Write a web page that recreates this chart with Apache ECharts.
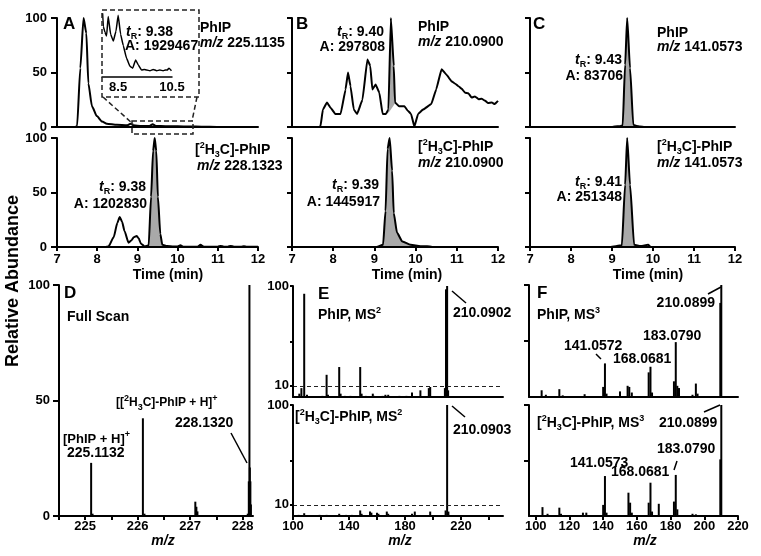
<!DOCTYPE html>
<html>
<head>
<meta charset="utf-8">
<script src="https://cdn.jsdelivr.net/npm/echarts@6/dist/echarts.min.js"></script>
<style>
html,body{margin:0;padding:0;background:#fff;}
#main{width:761px;height:556px;}
</style>
</head>
<body>
<div id="main"></div>
<script>
// ---- data ----
// chromatograms: [time (min), relative abundance]
var traceATop = [[7,0],[7.45,0],[7.5,1],[7.58,54],[7.66,100],[7.73,86],[7.78,40],[7.87,19],[7.99,10],[8.12,5],[8.24,3],[8.49,2],[8.74,1.5],[8.83,3],[8.9,1.5],[9.1,1],[9.3,1],[9.38,2.5],[9.46,1],[9.7,0.8],[10,0.6],[10.3,0.5],[10.6,0.3],[11,0],[12,0]];
var fillATop = [[9.3,1],[9.38,2.5],[9.46,1]];
var traceInset = [[7.9,120],[7.95,80],[8.01,71],[8.07,65],[8.13,96],[8.22,68],[8.32,57],[8.42,73],[8.5,98],[8.59,68],[8.69,50],[8.81,30],[8.94,17],[9.04,14],[9.15,27],[9.25,19],[9.37,11],[9.47,12],[9.56,11],[9.68,10],[9.8,12],[9.93,10],[10.05,11],[10.17,10],[10.25,11],[10.32,11],[10.39,14],[10.48,10]];
var traceABot = [[7,0],[8.2,0],[8.28,0.5],[8.41,9],[8.5,22],[8.56,27.5],[8.62,23],[8.68,14.5],[8.78,4],[8.85,6],[8.91,9],[8.98,10],[9.03,8],[9.09,3],[9.18,0.5],[9.28,1.5],[9.34,46],[9.39,88],[9.43,100],[9.47,88],[9.51,46],[9.57,12],[9.62,2],[9.74,1],[9.9,0.5],[10,0.5],[10.07,1.5],[10.15,0.3],[10.5,0.3],[10.57,2],[10.65,0.3],[11,0.3],[11.07,1],[11.15,0.3],[11.25,0.3],[11.32,1],[11.4,0.3],[11.58,0.3],[11.65,0.8],[11.72,0.3],[12,0.2]];
var fillABot = [[9.28,1.5],[9.34,46],[9.39,88],[9.43,100],[9.47,88],[9.51,46],[9.57,12],[9.62,2]];
var traceBTop = [[7,0],[7.65,0],[7.69,0.5],[7.75,16],[7.85,22.5],[7.93,18],[8.05,12],[8.18,12],[8.3,34.5],[8.36,50],[8.42,37.5],[8.5,16],[8.58,12],[8.71,25],[8.83,62],[8.9,56],[8.95,34.5],[9.03,39],[9.12,31.5],[9.2,12],[9.28,12],[9.34,16],[9.4,100],[9.47,56],[9.5,22.5],[9.6,19],[9.73,19],[9.81,15],[9.89,12],[9.97,0.3],[10.06,12],[10.18,16],[10.38,21],[10.5,34.5],[10.63,53],[10.75,48],[10.87,42],[10.95,40],[11.04,37.5],[11.12,35],[11.2,31.5],[11.28,31],[11.36,27],[11.44,28],[11.53,25.5],[11.6,26],[11.69,24],[11.76,22],[11.85,22.5],[11.92,21],[12,24]];
var fillBTopPeak = [[9.34,16],[9.4,100],[9.47,56],[9.5,22.5]];
var fillBTopBase = [[9.33,12.5],[9.4,16],[9.47,20],[9.51,22.5]];
var traceBBot = [[7,0],[9.05,0],[9.21,2],[9.27,33],[9.32,90],[9.37,100],[9.43,70],[9.47,31],[9.55,13],[9.68,5],[9.88,2],[10.12,0.8],[10.28,0.8],[10.4,0],[12,0]];
var fillBBot = [[9.05,0],[9.21,2],[9.27,33],[9.32,90],[9.37,100],[9.43,70],[9.47,31],[9.55,13],[9.68,5],[9.88,2],[10.12,0.8],[10.28,0.8]];
var traceCTop = [[7,0],[9,0],[9.07,0.5],[9.2,0.8],[9.26,1.5],[9.32,57],[9.37,100],[9.44,54],[9.52,2],[9.6,1],[9.68,0.5],[9.8,0],[12,0]];
var fillCTop = [[9.26,1.5],[9.32,57],[9.37,100],[9.44,54],[9.52,2]];
var traceCBot = [[7,0],[8.95,0],[9.24,1.5],[9.32,57],[9.37,100],[9.44,57],[9.54,2],[9.7,1],[9.88,2],[9.95,0],[12,0]];
var fillCBot = [[9.24,1.5],[9.32,57],[9.37,100],[9.44,57],[9.54,2]];

// spectra: [m/z, relative abundance]
var specD = [[225.113,23],[225.14,1],[226.1,42.3],[226.13,1],[227.1,6.2],[227.12,4],[227.14,2],[228.1,1],[228.12,15],[228.132,100],[228.14,21],[228.15,15],[228.16,5]];
var specETop = [[104.5,3],[106,8],[108,93],[110,2],[121,1],[124,20],[125,2],[130,1],[133,27],[134,3],[137,1],[141,1],[145,1],[148,27],[149,3],[152,1],[157,3],[158,1],[164,1],[166,2],[168,2],[170,1],[176,1],[181,1],[185,4],[191,6],[197,8],[198,9],[208.5,8],[209.3,97],[210.09,100],[210.8,6]];
var specEBot = [[104,1],[108,2.5],[119,1],[124,1],[133,2],[138,1],[142,1],[148,5],[149,2],[155,4],[156,3],[160,3],[161,2],[167,4],[168,2],[175,1],[180,1],[185,2],[187,4],[195,1],[198,4],[209,5],[210.09,100],[211,4]];
var specFTop = [[103.5,6],[106,2],[114,7],[116,1.5],[129,2.5],[140,9],[141.06,30],[142,3],[150,5],[154.5,10],[155.5,9],[157,4],[167,22],[168.07,27],[169,4],[182,14],[183.08,49],[184,10],[185,8],[193,2],[195,12],[196,3],[209.5,84],[210.09,100]];
var specFBot = [[104,8],[107,2],[114,7.5],[115,2],[128,3],[130,3],[140,10],[141.06,36],[142,3],[155,21],[156,12],[157,3],[167,12],[168.07,30],[169,4],[173,11],[182,13],[183.08,37],[184,6],[193,2],[195,1.5],[209.5,51],[210.09,100]];

// tick values
var timeTicks = [7, 8, 9, 10, 11, 12];
var insetLabels = [8.5, 10.5];
var abundTicks = [0, 50, 100];
var dTicks = [224.5, 225, 225.5, 226, 226.5, 227, 227.5, 228];
var dLabels = [225, 226, 227, 228];
var eTicks = [100, 120, 140, 160, 180, 200, 220, 240];
var eLabels = [100, 140, 180, 220];
var eYTicks = [10, 50, 100];
var eYLabels = [10, 100];
var fTicks = [100, 120, 140, 160, 180, 200, 220];
var fYTicks = [50, 100];

// ---- helpers ----
var FF = '"Liberation Sans", Arial, sans-serif';
var black = '#000';
var grey = '#a9a9a9';

function xAx(gi, min, max, ticks, labels, margin) {
    return {
        type: 'value', gridIndex: gi, min: min, max: max, z: 5,
        axisLine: {show: true, onZero: false, lineStyle: {color: black, width: 2}},
        axisTick: {show: !!ticks, customValues: ticks, length: 4, lineStyle: {color: black, width: 2}},
        axisLabel: {show: !!labels, customValues: labels, margin: margin || 5, color: black,
            fontFamily: FF, fontSize: 13, fontWeight: 'bold'},
        splitLine: {show: false}
    };
}
function yAx(gi, ticks, labels, tickLen, margin, noLine) {
    return {
        type: 'value', gridIndex: gi, min: 0, max: 100, z: 5,
        axisLine: {show: !noLine, onZero: false, lineStyle: {color: black, width: 2}},
        axisTick: {show: !!ticks, customValues: ticks, length: tickLen || 5, lineStyle: {color: black, width: 2}},
        axisLabel: {show: !!labels, customValues: labels, margin: margin || 8, color: black,
            fontFamily: FF, fontSize: 13, fontWeight: 'bold'},
        splitLine: {show: false}
    };
}
function trace(gi, data, smooth, width) {
    return {type: 'line', xAxisIndex: gi, yAxisIndex: gi, data: data, symbol: 'none', showSymbol: false,
        smooth: smooth, smoothMonotone: 'x', lineStyle: {color: black, width: width || 2}, z: 4};
}
function fill(gi, data, smooth, color, z) {
    return {type: 'line', xAxisIndex: gi, yAxisIndex: gi, data: data, symbol: 'none', showSymbol: false,
        smooth: smooth, smoothMonotone: 'x', lineStyle: {width: 0, opacity: 0},
        areaStyle: {color: color || grey, opacity: 1}, z: z || 2};
}
function sticks(gi, data, dashed) {
    var s = {type: 'bar', xAxisIndex: gi, yAxisIndex: gi, data: data, barWidth: 2,
        itemStyle: {color: black}, z: 3};
    if (dashed) {
        s.markLine = {silent: true, symbol: 'none', label: {show: false},
            lineStyle: {type: [4, 3], color: '#222', width: 1}, data: [{yAxis: 10}]};
    }
    return s;
}

var RICH = {
    i: {font: 'italic bold 14px ' + FF},
    sub: {font: 'bold 9px ' + FF, verticalAlign: 'bottom'},
    sup: {font: 'bold 9px ' + FF, verticalAlign: 'top', height: 10}
};
function tx(x, y, s, align, size, rot) {
    return {
        type: 'text', x: x, y: y, rotation: rot || 0, z: 100,
        style: {text: s, font: 'bold ' + (size || 14) + 'px ' + FF, fill: black,
            align: align || 'left', textAlign: align || 'left',
            verticalAlign: 'middle', textVerticalAlign: 'middle', lineHeight: 18, rich: RICH}
    };
}
function ln(x1, y1, x2, y2, dash) {
    return {type: 'line', z: 100, shape: {x1: x1, y1: y1, x2: x2, y2: y2},
        style: {stroke: dash ? '#222' : black, lineWidth: 1.5, lineDash: dash ? [5, 3] : null}};
}
function box(x, y, w, h) {
    return {type: 'rect', z: 100, shape: {x: x, y: y, width: w, height: h},
        style: {fill: 'none', stroke: '#222', lineWidth: 1.5, lineDash: [5, 3]}};
}

var H3C = '[{sup|2}H{sub|3}C]-PhIP';
var tR = '{i|t}{sub|R}: ';

// ---- layout ----
var grids = [
    {left: 57, top: 18, width: 201, height: 109},   // A top
    {left: 57, top: 138, width: 201, height: 109},  // A bottom
    {left: 292, top: 18, width: 206, height: 109},  // B top
    {left: 292, top: 138, width: 206, height: 109}, // B bottom
    {left: 530, top: 18, width: 205, height: 109},  // C top
    {left: 530, top: 138, width: 205, height: 109}, // C bottom
    {left: 102, top: 14, width: 70, height: 63},    // A inset
    {left: 59, top: 285, width: 194, height: 231},  // D
    {left: 293, top: 286, width: 210, height: 111}, // E top
    {left: 293, top: 405, width: 210, height: 111}, // E bottom
    {left: 529, top: 285, width: 209, height: 112}, // F top
    {left: 529, top: 405, width: 209, height: 111}  // F bottom
];
grids.forEach(function (g) { g.containLabel = false; g.outerBoundsMode = 'none'; });

var xAxes = [
    xAx(0, 7, 12), xAx(1, 7, 12, timeTicks, timeTicks, 6),
    xAx(2, 7, 12), xAx(3, 7, 12, timeTicks, timeTicks, 6),
    xAx(4, 7, 12), xAx(5, 7, 12, timeTicks, timeTicks, 6),
    xAx(6, 7.9, 10.5, null, insetLabels, 4),
    xAx(7, 224.5, 228.2, dTicks, dLabels, 4),
    xAx(8, 100, 250), xAx(9, 100, 250, eTicks, eLabels, 4),
    xAx(10, 96, 220), xAx(11, 96, 220, fTicks, fTicks, 4)
];
xAxes[6].axisLine.lineStyle.width = 1.5;
var yAxes = [
    yAx(0, abundTicks, abundTicks, 6, 10), yAx(1, abundTicks, abundTicks, 6, 10),
    yAx(2, abundTicks, null, 5), yAx(3, abundTicks, null, 5),
    yAx(4, abundTicks, null, 5), yAx(5, abundTicks, null, 5),
    yAx(6, null, null, 0, 0, true),
    yAx(7, abundTicks, abundTicks, 6, 9),
    yAx(8, eYTicks, eYLabels, 3, 4), yAx(9, eYTicks, eYLabels, 3, 4),
    yAx(10, fYTicks, null, 5), yAx(11, fYTicks, null, 5)
];

var series = [
    fill(0, fillATop, 0.2), trace(0, traceATop, 0.2),
    fill(1, fillABot, 0.2), trace(1, traceABot, 0.2),
    // B top: grey peak area, then the part below the sloping baseline painted white again
    fill(2, fillBTopPeak, 0, grey, 2), fill(2, fillBTopBase, 0, '#fff', 3),
    trace(2, traceBTop, 0.1),
    fill(3, fillBBot, 0.2), trace(3, traceBBot, 0.2),
    fill(4, fillCTop, 0.2), trace(4, traceCTop, 0.2),
    fill(5, fillCBot, 0.2), trace(5, traceCBot, 0.2),
    trace(6, traceInset, 0.1, 1.5),
    sticks(7, specD),
    sticks(8, specETop, true), sticks(9, specEBot, true),
    sticks(10, specFTop), sticks(11, specFBot)
];

var graphics = [
    // panel A
    tx(63, 24, 'A', 'left', 17),
    tx(200, 28, 'PhIP'), tx(200, 43, '{i|m/z} 225.1135'),
    tx(126, 32, tR + '9.38'), tx(125, 46, 'A: 1929467'),
    tx(195, 150, H3C), tx(197, 166, '{i|m/z} 228.1323'),
    tx(146, 187, tR + '9.38', 'right'), tx(147, 204, 'A: 1202830', 'right'),
    box(102, 10, 97, 87), box(132, 121, 61, 13),
    ln(103, 97, 133, 124, true), ln(197, 97, 192, 121, true),
    // panel B
    tx(296, 24, 'B', 'left', 17),
    tx(384, 32, tR + '9.40', 'right'), tx(385, 47, 'A: 297808', 'right'),
    tx(418, 27, 'PhIP'), tx(418, 42, '{i|m/z} 210.0900'),
    tx(379, 185, tR + '9.39', 'right'), tx(380, 202, 'A: 1445917', 'right'),
    tx(418, 147, H3C), tx(418, 163, '{i|m/z} 210.0900'),
    // panel C
    tx(533, 24, 'C', 'left', 17),
    tx(622, 60, tR + '9.43', 'right'), tx(623, 76, 'A: 83706', 'right'),
    tx(657, 33, 'PhIP'), tx(657, 47, '{i|m/z} 141.0573'),
    tx(622, 182, tR + '9.41', 'right'), tx(622, 197, 'A: 251348', 'right'),
    tx(657, 147, H3C), tx(657, 163, '{i|m/z} 141.0573'),
    // axis titles
    tx(168, 275, 'Time (min)', 'center'), tx(407, 275, 'Time (min)', 'center'), tx(648, 275, 'Time (min)', 'center'),
    tx(13, 281, 'Relative Abundance', 'center', 18, Math.PI / 2),
    tx(163, 541, '{i|m/z}', 'center'), tx(400, 541, '{i|m/z}', 'center'), tx(645, 541, '{i|m/z}', 'center'),
    // panel D
    tx(64, 293, 'D', 'left', 17), tx(67, 317, 'Full Scan'),
    tx(63, 439, '[PhIP + H]{sup|+}', 'left', 13), tx(67, 453, '225.1132'),
    tx(116, 403, '[[{sup|2}H{sub|3}C]-PhIP + H]{sup|+}', 'left', 12), tx(175, 423, '228.1320'),
    ln(231, 433, 247, 463),
    // panel E
    tx(318, 294, 'E', 'left', 17), tx(318, 315, 'PhIP, MS{sup|2}'),
    tx(453, 313, '210.0902'), ln(452, 291, 466, 303),
    tx(295, 417, H3C + ', MS{sup|2}'),
    tx(453, 430, '210.0903'), ln(452, 406, 465, 417),
    // panel F
    tx(537, 293, 'F', 'left', 17), tx(537, 315, 'PhIP, MS{sup|3}'),
    tx(715, 303, '210.0899', 'right'), ln(708, 294, 721, 287),
    tx(643, 336, '183.0790'), tx(564, 346, '141.0572'), ln(596, 354, 601, 359),
    tx(613, 359, '168.0681'),
    tx(537, 423, H3C + ', MS{sup|3}'), tx(659, 423, '210.0899'), ln(704, 412, 720, 405),
    tx(657, 449, '183.0790'), ln(677, 461, 674, 470),
    tx(570, 463, '141.0573'), tx(611, 472, '168.0681')
];

var chart = echarts.init(document.getElementById('main'), null, {renderer: 'canvas'});
chart.setOption({
    animation: false,
    backgroundColor: '#fff',
    grid: grids,
    xAxis: xAxes,
    yAxis: yAxes,
    series: series,
    graphic: {elements: graphics}
});
</script>
</body>
</html>
